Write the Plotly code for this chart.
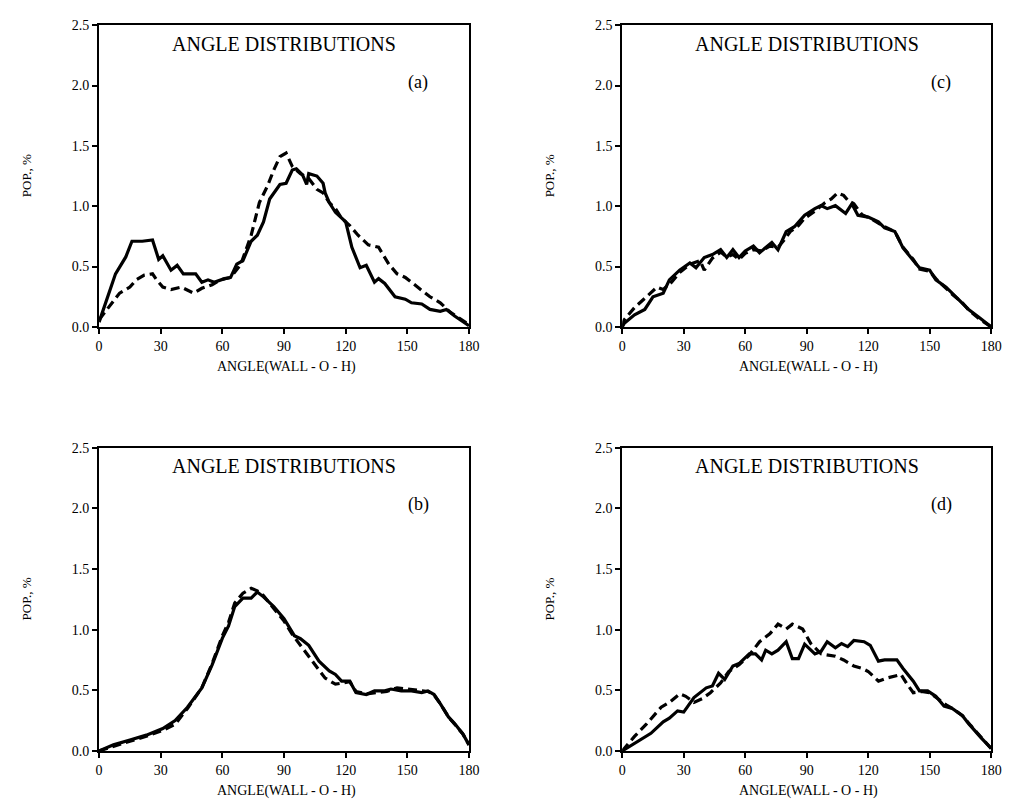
import plotly.graph_objects as go

# ---------------- data ----------------
a_solid_x = [0, 4, 8, 13, 16, 21, 26, 29, 31, 35, 38, 41, 47, 50, 53, 56, 61, 64, 67, 70, 74, 77, 80, 83, 88, 91, 94, 96, 99, 101, 102, 106, 109, 110, 112, 115, 120, 123, 127, 130, 134, 136, 139, 144, 149, 152, 157, 161, 166, 169, 173, 180]
a_solid_y = [0.04, 0.25, 0.44, 0.58, 0.71, 0.71, 0.72, 0.56, 0.59, 0.47, 0.51, 0.44, 0.44, 0.37, 0.39, 0.37, 0.40, 0.41, 0.52, 0.55, 0.71, 0.76, 0.87, 1.06, 1.18, 1.19, 1.30, 1.31, 1.26, 1.18, 1.27, 1.25, 1.19, 1.11, 1.03, 0.95, 0.87, 0.66, 0.49, 0.51, 0.37, 0.40, 0.36, 0.25, 0.23, 0.20, 0.19, 0.145, 0.13, 0.145, 0.09, 0.01]
a_dash_x = [0, 5, 10, 15, 18, 22, 26, 28, 31, 35, 40, 46, 50, 55, 59, 64, 69, 74, 78, 82, 85, 88, 91, 94, 98, 102, 106, 109, 112, 115, 118, 122, 126, 131, 136, 141, 145, 149, 155, 161, 166, 171, 180]
a_dash_y = [0.06, 0.17, 0.28, 0.33, 0.39, 0.43, 0.44, 0.39, 0.33, 0.31, 0.33, 0.28, 0.32, 0.35, 0.39, 0.41, 0.52, 0.76, 1.03, 1.17, 1.30, 1.41, 1.44, 1.33, 1.27, 1.23, 1.14, 1.11, 1.03, 0.98, 0.90, 0.84, 0.76, 0.68, 0.66, 0.52, 0.44, 0.41, 0.33, 0.25, 0.20, 0.12, 0.02]

b_solid_x = [0, 7, 15, 23, 31, 37, 43, 50, 55, 60, 63, 66, 70, 74, 77, 80, 85, 90, 95, 98, 102, 107, 112, 115, 118, 122, 125, 130, 134, 139, 142, 147, 152, 157, 160, 163, 166, 170, 173, 177, 180]
b_solid_y = [0.0, 0.05, 0.09, 0.13, 0.185, 0.25, 0.36, 0.52, 0.71, 0.93, 1.03, 1.19, 1.26, 1.26, 1.31, 1.27, 1.19, 1.09, 0.95, 0.925, 0.87, 0.74, 0.66, 0.63, 0.575, 0.575, 0.48, 0.465, 0.495, 0.495, 0.51, 0.495, 0.495, 0.48, 0.495, 0.465, 0.39, 0.28, 0.225, 0.14, 0.05]
b_dash_x = [0, 7, 15, 23, 31, 37, 43, 50, 55, 60, 63, 66, 70, 74, 77, 80, 85, 90, 94, 98, 104, 110, 115, 118, 122, 125, 130, 135, 140, 145, 150, 155, 160, 163, 166, 170, 173, 177, 180]
b_dash_y = [0.0, 0.04, 0.08, 0.12, 0.17, 0.22, 0.35, 0.52, 0.72, 0.95, 1.06, 1.22, 1.30, 1.34, 1.32, 1.28, 1.17, 1.07, 0.96, 0.87, 0.74, 0.60, 0.55, 0.56, 0.57, 0.49, 0.47, 0.48, 0.49, 0.52, 0.51, 0.50, 0.49, 0.46, 0.39, 0.28, 0.22, 0.14, 0.05]

c_solid_x = [0, 1, 6, 11, 15, 20, 23, 28, 33, 36, 40, 44, 48, 51, 54, 57, 60, 64, 67, 70, 73, 76, 80, 84, 89, 94, 97, 100, 104, 109, 112, 115, 120, 125, 128, 133, 137, 142, 145, 150, 153, 158, 161, 166, 169, 174, 180]
c_solid_y = [0.0, 0.03, 0.10, 0.145, 0.25, 0.28, 0.39, 0.47, 0.53, 0.49, 0.575, 0.60, 0.64, 0.575, 0.64, 0.575, 0.63, 0.67, 0.615, 0.655, 0.70, 0.64, 0.79, 0.83, 0.925, 0.98, 1.005, 0.98, 1.005, 0.94, 1.02, 0.925, 0.91, 0.87, 0.82, 0.79, 0.655, 0.55, 0.49, 0.47, 0.39, 0.33, 0.28, 0.20, 0.145, 0.08, 0.0]
c_dash_x = [0, 1, 6, 12, 17, 20, 24, 28, 33, 38, 40, 44, 48, 51, 54, 57, 60, 64, 68, 72, 76, 79, 82, 86, 89, 94, 99, 102, 105, 108, 110, 113, 117, 121, 125, 128, 133, 137, 142, 145, 150, 153, 158, 161, 166, 169, 174, 180]
c_dash_y = [0.0, 0.06, 0.16, 0.25, 0.33, 0.31, 0.37, 0.45, 0.52, 0.55, 0.47, 0.57, 0.62, 0.58, 0.60, 0.56, 0.61, 0.64, 0.63, 0.67, 0.66, 0.72, 0.79, 0.84, 0.90, 0.96, 1.03, 1.06, 1.11, 1.09, 1.05, 1.02, 0.93, 0.90, 0.86, 0.83, 0.79, 0.66, 0.56, 0.48, 0.46, 0.40, 0.32, 0.27, 0.20, 0.14, 0.07, 0.0]

d_solid_x = [0, 6, 14, 20, 23, 27, 30, 35, 41, 44, 47, 50, 54, 57, 62, 65, 68, 70, 73, 76, 80, 83, 86, 89, 94, 97, 100, 104, 107, 110, 113, 118, 121, 125, 128, 134, 137, 142, 145, 149, 153, 157, 161, 166, 169, 175, 180]
d_solid_y = [0.0, 0.065, 0.145, 0.24, 0.27, 0.33, 0.32, 0.44, 0.52, 0.535, 0.64, 0.59, 0.70, 0.72, 0.80, 0.80, 0.75, 0.83, 0.80, 0.83, 0.90, 0.76, 0.76, 0.88, 0.80, 0.82, 0.90, 0.85, 0.885, 0.86, 0.91, 0.90, 0.87, 0.74, 0.75, 0.75, 0.68, 0.575, 0.495, 0.495, 0.45, 0.37, 0.35, 0.29, 0.225, 0.11, 0.02]
d_dash_x = [0, 6, 12, 19, 23, 28, 31, 35, 39, 43, 48, 52, 57, 62, 67, 72, 76, 80, 83, 88, 92, 97, 104, 108, 113, 117, 120, 125, 129, 136, 139, 142, 146, 150, 154, 158, 162, 166, 170, 175, 180]
d_dash_y = [0.0, 0.12, 0.225, 0.36, 0.40, 0.47, 0.45, 0.40, 0.43, 0.48, 0.56, 0.655, 0.71, 0.79, 0.90, 0.965, 1.045, 1.005, 1.045, 1.005, 0.885, 0.80, 0.78, 0.75, 0.70, 0.68, 0.655, 0.575, 0.60, 0.63, 0.55, 0.48, 0.49, 0.48, 0.43, 0.38, 0.34, 0.29, 0.21, 0.11, 0.02]

x_ticks = [0, 30, 60, 90, 120, 150, 180]
y_ticks = [0.0, 0.5, 1.0, 1.5, 2.0, 2.5]
panel_labels = ["(a)", "(b)", "(c)", "(d)"]
title_text = "ANGLE DISTRIBUTIONS"
x_title = "ANGLE(WALL - O - H)"
y_title = "POP., %"

# ---------------- layout ----------------
W, H = 1014, 807
FONT = "Liberation Serif"

def px_x(p):
    return p / W

def px_y(p):
    return 1 - p / H

# panel pixel boxes: (left, right, top, bottom)
boxes = {
    "a": (96.5, 472, 18.5, 326),
    "c": (627.5, 1002, 18.5, 326),
    "b": (96.5, 472, 449, 758),
    "d": (627.5, 1002, 449, 758),
}
series = {
    "a": (a_solid_x, a_solid_y, a_dash_x, a_dash_y),
    "b": (b_solid_x, b_solid_y, b_dash_x, b_dash_y),
    "c": (c_solid_x, c_solid_y, c_dash_x, c_dash_y),
    "d": (d_solid_x, d_solid_y, d_dash_x, d_dash_y),
}

fig = go.Figure()
annotations = []
layout_axes = {}

for i, key in enumerate(["a", "b", "c", "d"]):
    n = i + 1
    xa = "x" if n == 1 else f"x{n}"
    ya = "y" if n == 1 else f"y{n}"
    l, r, t, b = boxes[key]
    sx, sy, dx, dy = series[key]
    fig.add_trace(go.Scatter(x=dx, y=dy, mode="lines", xaxis=xa, yaxis=ya,
                             line=dict(color="black", width=3.2, dash="9px,5px"),
                             showlegend=False, hoverinfo="skip"))
    fig.add_trace(go.Scatter(x=sx, y=sy, mode="lines", xaxis=xa, yaxis=ya,
                             line=dict(color="black", width=3.2),
                             showlegend=False, hoverinfo="skip"))
    xname = "xaxis" if n == 1 else f"xaxis{n}"
    yname = "yaxis" if n == 1 else f"yaxis{n}"
    layout_axes[xname] = dict(
        domain=[px_x(l), px_x(r)], range=[0, 180], anchor=ya,
        tickvals=x_ticks, ticktext=[str(v) for v in x_ticks],
        ticks="outside", ticklen=5, tickwidth=2, tickcolor="black",
        showline=True, linewidth=2, linecolor="black", mirror=True,
        showgrid=False, zeroline=False,
        tickfont=dict(family=FONT, size=14, color="black"),
    )
    layout_axes[yname] = dict(
        domain=[px_y(b), px_y(t)], range=[0, 2.5], anchor=xa,
        tickvals=y_ticks, ticktext=[f"{v:.1f}" for v in y_ticks],
        ticks="outside", ticklen=5, tickwidth=2, tickcolor="black",
        showline=True, linewidth=2, linecolor="black", mirror=True,
        showgrid=False, zeroline=False,
        tickfont=dict(family=FONT, size=14, color="black"),
    )
    cx = (l + r) / 2
    annotations.append(dict(text=title_text, x=px_x(cx), y=px_y(t + 19), xref="paper", yref="paper",
                            showarrow=False, xanchor="center", yanchor="middle",
                            font=dict(family=FONT, size=20, color="black")))
    annotations.append(dict(text=panel_labels[i], x=px_x(l + 324), y=px_y(t + 58), xref="paper", yref="paper",
                            showarrow=False, xanchor="center", yanchor="middle",
                            font=dict(family=FONT, size=18, color="black")))
    annotations.append(dict(text=x_title, x=px_x(cx + 2), y=px_y(b + 41), xref="paper", yref="paper",
                            showarrow=False, xanchor="center", yanchor="middle",
                            font=dict(family=FONT, size=14, color="black")))
    annotations.append(dict(text=y_title, x=px_x(l - 74), y=px_y((t + b) / 2), xref="paper", yref="paper",
                            showarrow=False, xanchor="center", yanchor="middle", textangle=-90,
                            font=dict(family=FONT, size=13, color="black")))

fig.update_layout(
    width=W, height=H,
    margin=dict(l=0, r=0, t=0, b=0),
    paper_bgcolor="white", plot_bgcolor="white",
    annotations=annotations,
    **layout_axes,
)

fig.write_html("out.html",
               config={"displayModeBar": False},
               post_script="document.body.style.margin='0';document.body.style.padding='0';")
